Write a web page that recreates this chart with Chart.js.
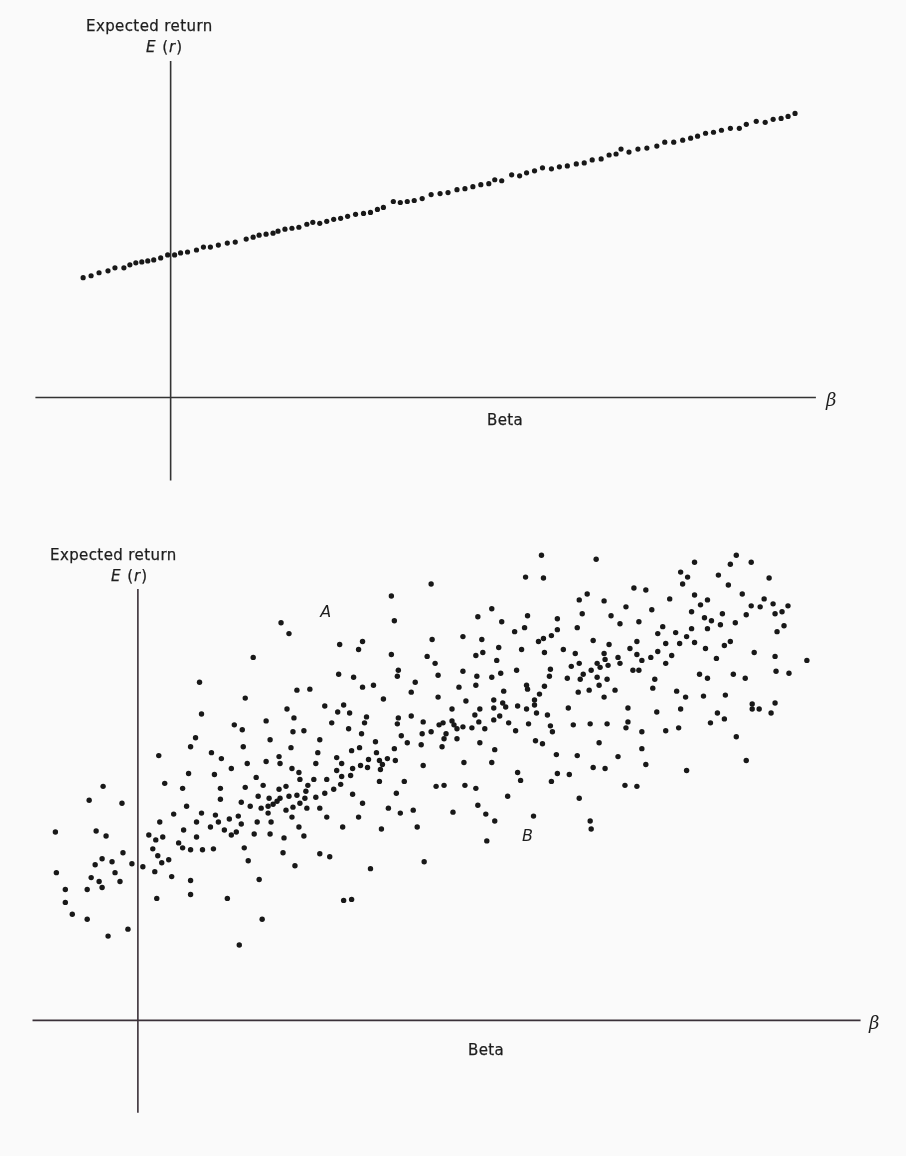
<!DOCTYPE html>
<html lang="en">
<head>
<meta charset="utf-8">
<title>Expected return and Beta</title>
<script src="https://cdn.jsdelivr.net/npm/chart.js@4.4.0/dist/chart.umd.min.js"></script>
<style>
  html, body { margin: 0; padding: 0; background: #fafafa; }
  #page { position: relative; width: 906px; height: 1156px; overflow: hidden;
          font-family: "DejaVu Sans", sans-serif; color: #1e1e1e; }
  .panel { position: absolute; left: 0; }
  .lbl { position: absolute; font-size: 15px; line-height: 15px; white-space: nowrap;
         letter-spacing: 0.4px; -webkit-text-stroke: 0.25px #1e1e1e; }
  .er { letter-spacing: 1px; }
  .beta-sym { font-size: 18px; line-height: 18px; font-style: italic; font-family: "DejaVu Serif", serif;
              letter-spacing: 0; -webkit-text-stroke: 0; }
  .mark { font-style: italic; font-size: 16px; line-height: 16px; letter-spacing: 0;
          -webkit-text-stroke: 0; transform: translate(-50%, -50%); }
</style>
</head>
<body>
<div id="page">
  <canvas id="chartTop" class="panel" style="top:0" width="906" height="500"></canvas>
  <canvas id="chartBottom" class="panel" style="top:500px" width="906" height="656"></canvas>

  <div class="lbl" style="left:86px; top:19px">Expected return</div>
  <div class="lbl er" style="left:146px; top:40px"><i>E</i> (<i>r</i>)</div>
  <div class="lbl" style="left:487px; top:413px">Beta</div>
  <div class="lbl beta-sym" style="left:826px; top:391px">β</div>

  <div class="lbl" style="left:50px; top:548px">Expected return</div>
  <div class="lbl er" style="left:111px; top:569px"><i>E</i> (<i>r</i>)</div>
  <div class="lbl" style="left:468px; top:1043px">Beta</div>
  <div class="lbl beta-sym" style="left:869px; top:1014px">β</div>
</div>

<script>
// Grafico superior: rendimiento esperado sobre la recta (beta, E(r))
const lineBeta = [
  -0.88, -0.80, -0.72, -0.63, -0.56, -0.47, -0.41, -0.35, -0.29, -0.23,
  -0.17, -0.10, -0.03, 0.04, 0.10, 0.17, 0.26, 0.33, 0.40, 0.48,
  0.57, 0.65, 0.76, 0.83, 0.89, 0.96, 1.03, 1.08, 1.15, 1.22,
  1.29, 1.37, 1.43, 1.50, 1.57, 1.64, 1.71, 1.78, 1.86, 1.94,
  2.01, 2.08, 2.14, 2.24, 2.31, 2.38, 2.45, 2.53, 2.62, 2.71,
  2.79, 2.88, 2.96, 3.04, 3.12, 3.20, 3.26, 3.33, 3.43, 3.51,
  3.58, 3.66, 3.74, 3.83, 3.91, 3.99, 4.08, 4.16, 4.24, 4.33,
  4.41, 4.48, 4.53, 4.61, 4.70, 4.79, 4.89, 4.97, 5.06, 5.15,
  5.23, 5.30, 5.38, 5.46, 5.54, 5.63, 5.72, 5.79, 5.89, 5.98,
  6.06, 6.14, 6.21, 6.28
];
const lineReturn = [
  1.21, 1.23, 1.26, 1.28, 1.31, 1.31, 1.34, 1.36, 1.37, 1.38,
  1.39, 1.41, 1.44, 1.44, 1.46, 1.47, 1.49, 1.52, 1.52, 1.54,
  1.56, 1.57, 1.60, 1.62, 1.64, 1.65, 1.66, 1.68, 1.70, 1.71,
  1.72, 1.75, 1.77, 1.76, 1.78, 1.80, 1.81, 1.83, 1.85, 1.86,
  1.87, 1.90, 1.92, 1.98, 1.97, 1.98, 1.99, 2.01, 2.05, 2.06,
  2.07, 2.10, 2.11, 2.13, 2.15, 2.16, 2.20, 2.19, 2.25, 2.24,
  2.27, 2.29, 2.32, 2.31, 2.33, 2.34, 2.36, 2.37, 2.40, 2.41,
  2.45, 2.46, 2.51, 2.48, 2.51, 2.52, 2.54, 2.58, 2.58, 2.60,
  2.62, 2.64, 2.67, 2.68, 2.70, 2.72, 2.72, 2.76, 2.79, 2.78,
  2.81, 2.82, 2.84, 2.87
];

// Grafico inferior: nube de puntos (beta, E(r))
const scatterBeta = [
  1.44, 1.52, 1.16, 0.62, 1.60, 1.08, 0.64, 1.50, 1.57, 0.97,
  1.05, 1.29, 1.56, 0.58, 1.33, 0.53, 1.06, 1.54, 0.74, 0.21,
  0.84, 1.42, 1.29, 1.43, 1.10, 0.94, 1.55, 1.62, 0.51, 0.77,
  1.19, 1.63, 0.27, 0.45, 0.83, 1.08, 1.26, 1.49, 1.42, -0.35,
  -0.49, -0.16, 0.83, 1.04, 1.21, 1.32, 1.43, 1.52, 1.60, 0.49,
  1.13, 1.24, 1.31, 1.36, 1.40, 1.49, 1.56, 1.63, 0.36, 0.64,
  0.78, 1.01, 1.31, 1.55, 0.22, 0.59, 0.81, 0.92, 1.20, 1.34,
  1.04, 1.62, 0.46, 0.73, 0.87, 0.99, 0.94, 1.17, 1.33, -0.83,
  -0.42, -0.32, 0.11, 0.18, 0.25, 0.59, 1.47, 0.41, 0.15, 0.45,
  0.53, 0.65, 0.76, 1.07, 1.46, -0.15, -0.36, -0.26, -0.43, 0.20,
  0.31, 0.24, -0.06, 0.05, 1.11, 1.58, -0.82, -0.23, 0.17, -0.47,
  -0.39, -0.18, 0.34, 0.53, 1.22, -0.73, -0.51, -0.36, 0.53, 0.19,
  0.90, -0.73, -0.66, -0.51, 1.25, -0.10, -0.30, 1.02,
  4.06, 3.90, 4.08, 2.95, 2.55, 3.56, 2.58, 3.42, 3.92, 3.66,
  4.22, 3.89, 3.79, 4.22, 4.16, 4.08, 4.03, 3.27, 3.46, 2.96,
  2.03, 2.26, 2.22, 2.55, 2.91, 3.63, 3.86, 3.47, 3.40, 4.09,
  3.61, 2.99, 2.62, 2.61, 2.02, 2.17, 3.02, 3.27, 3.41, 3.56,
  3.65, 3.81, 4.15, 4.14, 2.79, 1.73, 2.26, 2.37, 3.23, 3.40,
  3.91, 3.92, 4.09, 2.75, 3.68, 4.04, 2.47, 3.02, 3.30, 3.58,
  3.99, 1.88, 2.07, 2.01, 2.13, 2.30, 2.62, 2.75, 3.16, 3.44,
  3.58, 3.67, 3.70, 3.82, 3.91, 3.99, 4.01, 4.12, 3.39, 3.64,
  3.58, 1.95, 2.28, 2.61, 2.87, 3.03, 3.07, 3.16, 3.18, 3.27,
  3.36, 3.43, 3.49, 3.73, 3.93, 4.15, 3.21, 2.12, 1.67, 2.25,
  2.65, 2.86, 2.95, 3.10, 3.80, 4.17, 3.08, 3.21, 1.83, 2.39,
  2.71, 2.85, 3.44, 4.00, 4.07,
  4.61, 6.02, 5.60, 5.96, 6.17, 5.46, 5.53, 5.84, 6.35, 5.48,
  5.94, 4.99, 5.11, 4.52, 4.44, 4.69, 5.35, 5.60, 5.73, 6.08,
  6.30, 6.39, 6.54, 6.17, 6.26, 5.66, 4.91, 5.17, 5.57, 5.88,
  6.12, 6.48, 6.41, 4.47, 4.76, 5.70, 5.77, 6.01, 5.86, 4.85,
  5.04, 4.42, 5.28, 5.57, 5.73, 6.50, 6.43, 5.23, 5.41, 5.52,
  4.58, 5.02, 5.60, 5.96, 5.90, 4.74, 5.31, 5.45, 4.28, 4.95,
  5.71, 4.40, 4.69, 5.02, 5.23, 5.37, 6.20, 5.16, 4.83, 4.70,
  5.07, 5.82, 6.41, 6.73, 4.44, 4.62, 4.73, 4.85, 5.31, 4.36,
  4.65, 4.56, 4.98, 5.04, 4.48, 4.32, 4.45, 4.62, 4.72, 5.20,
  5.65, 5.73, 5.99, 6.11, 6.42, 6.55, 4.64, 4.43, 4.54, 4.80,
  5.18, 5.42, 4.69, 5.51, 5.69, 5.91, 4.33, 4.93, 5.22, 5.46,
  6.18, 6.18, 6.25, 6.41, 6.37, 5.83, 5.90, 4.93, 4.38, 4.55,
  4.72, 4.91, 5.07, 5.31, 5.44, 5.76, 6.02, 4.64,
  2.15, 2.23, 2.40, 2.58, 3.06, 3.59, 4.21, 1.81, 1.79, 2.00,
  2.05, 2.00, 2.16, 2.24, 2.32, 2.31, 2.43, 2.46, 2.51, 2.59,
  2.44, 2.87, 3.28, 3.56, 3.82, 4.22, 2.05, 2.14, 1.77, 1.90,
  2.43, 2.68, 3.85, 4.16, 1.71, 2.04, 3.00, 3.08, 3.29, 3.40,
  1.69, 1.97, 1.88, 2.16, 2.60, 3.72, 1.68, 1.79, 2.26, 1.70,
  1.83, 2.52, 2.77, 2.64, 3.42, 3.17, 3.50, 1.90, 2.22, 3.98,
  3.59, 2.06, 2.45, 2.81, 1.67, 3.51, 1.83, 1.93, 2.88, 2.34,
  2.07, 2.15,
  5.07, 4.42, 4.83, 6.12, 4.58, 4.70, 5.11, 5.52, 4.34, 4.90,
  5.02, 4.44, 4.55, 4.56
];
const scatterReturn = [
  4.01, 3.90, 3.66, 3.41, 3.33, 3.25, 3.09, 3.14, 3.05, 2.98,
  2.93, 3.02, 2.91, 2.85, 2.83, 2.76, 2.76, 2.75, 2.70, 2.67,
  2.64, 2.66, 2.61, 2.59, 2.59, 2.54, 2.54, 2.50, 2.49, 2.48,
  2.45, 2.43, 2.39, 2.34, 2.34, 2.35, 2.37, 2.36, 2.33, 2.36,
  2.22, 2.19, 2.23, 2.20, 2.26, 2.24, 2.24, 2.26, 2.27, 2.16,
  2.16, 2.14, 2.16, 2.18, 2.21, 2.12, 2.15, 2.19, 2.08, 2.09,
  2.07, 2.06, 2.09, 2.05, 2.00, 2.00, 2.00, 2.03, 2.00, 2.00,
  1.98, 1.95, 1.92, 1.95, 1.92, 1.90, 1.87, 1.88, 1.88, 1.90,
  1.91, 1.86, 1.87, 1.82, 1.85, 1.85, 1.84, 1.79, 1.73, 1.74,
  1.72, 1.72, 1.73, 1.74, 1.69, 1.69, 1.63, 1.60, 1.57, 1.66,
  1.62, 1.59, 1.58, 1.55, 1.61, 1.56, 1.49, 1.49, 1.50, 1.44,
  1.40, 1.40, 1.45, 1.41, 1.42, 1.32, 1.32, 1.34, 1.27, 1.23,
  1.23, 1.19, 1.07, 1.02, 1.02, 0.92, 0.85, 0.76,
  4.69, 4.47, 4.46, 4.40, 4.28, 4.15, 4.03, 4.07, 4.08, 4.02,
  4.05, 3.96, 3.92, 3.94, 3.88, 3.85, 3.82, 3.87, 3.84, 3.84,
  3.79, 3.82, 3.74, 3.69, 3.67, 3.76, 3.74, 3.71, 3.68, 3.71,
  3.63, 3.60, 3.53, 3.47, 3.49, 3.46, 3.48, 3.52, 3.47, 3.46,
  3.50, 3.53, 3.54, 3.47, 3.41, 3.34, 3.36, 3.38, 3.36, 3.38,
  3.38, 3.34, 3.37, 3.31, 3.32, 3.29, 3.24, 3.26, 3.22, 3.23,
  3.23, 3.17, 3.18, 3.11, 3.10, 3.06, 3.05, 3.07, 3.14, 3.14,
  3.15, 3.20, 3.16, 3.17, 3.14, 3.18, 3.10, 3.08, 3.08, 3.07,
  3.03, 3.00, 3.00, 2.99, 3.01, 2.98, 3.00, 3.02, 2.98, 2.96,
  2.95, 3.01, 2.94, 3.00, 2.99, 2.97, 2.94, 2.94, 2.92, 2.89,
  2.87, 2.89, 2.91, 2.89, 2.92, 2.91, 2.84, 2.84, 2.83, 2.81,
  2.80, 2.78, 2.80, 2.82, 2.79,
  4.65, 4.69, 4.62, 4.60, 4.62, 4.52, 4.47, 4.49, 4.46, 4.40,
  4.39, 4.36, 4.34, 4.30, 4.24, 4.23, 4.25, 4.29, 4.24, 4.30,
  4.25, 4.20, 4.18, 4.18, 4.17, 4.19, 4.17, 4.14, 4.12, 4.10,
  4.09, 4.12, 4.10, 4.10, 4.08, 4.06, 4.03, 4.01, 3.99, 4.00,
  4.02, 3.96, 3.97, 3.95, 3.95, 3.98, 3.92, 3.90, 3.91, 3.87,
  3.83, 3.82, 3.81, 3.82, 3.78, 3.79, 3.80, 3.80, 3.74, 3.75,
  3.75, 3.70, 3.70, 3.69, 3.72, 3.68, 3.71, 3.66, 3.66, 3.64,
  3.63, 3.65, 3.67, 3.63, 3.60, 3.60, 3.58, 3.60, 3.60, 3.57,
  3.56, 3.53, 3.53, 3.53, 3.49, 3.45, 3.44, 3.46, 3.44, 3.44,
  3.49, 3.45, 3.49, 3.45, 3.52, 3.50, 3.38, 3.31, 3.33, 3.33,
  3.35, 3.32, 3.26, 3.26, 3.27, 3.28, 3.15, 3.15, 3.11, 3.14,
  3.19, 3.14, 3.14, 3.20, 3.10, 3.10, 3.04, 3.01, 2.98, 2.99,
  2.99, 2.95, 2.91, 2.92, 2.95, 3.00, 2.86, 2.80,
  2.72, 2.75, 2.70, 2.74, 2.76, 2.73, 2.68, 2.70, 2.59, 2.65,
  2.59, 2.52, 2.54, 2.57, 2.63, 2.55, 2.62, 2.58, 2.64, 2.62,
  2.53, 2.57, 2.60, 2.60, 2.50, 2.49, 2.46, 2.47, 2.43, 2.43,
  2.41, 2.41, 2.42, 2.41, 2.37, 2.38, 2.36, 2.37, 2.37, 2.34,
  2.31, 2.33, 2.29, 2.28, 2.29, 2.26, 2.24, 2.25, 2.19, 2.14,
  2.14, 2.14, 2.12, 2.09, 2.17, 2.10, 2.08, 2.05, 2.05, 2.06,
  2.01, 1.95, 1.93, 1.95, 1.86, 1.81, 1.68, 1.65, 1.60, 1.53,
  1.21, 1.22,
  2.74, 2.67, 2.66, 2.62, 2.55, 2.54, 2.58, 2.52, 2.48, 2.37,
  2.36, 2.24, 2.01, 1.93
];

// Etiquetas de los puntos A y B (en unidades de los ejes)
const markLabels = ['A', 'B'];
const markBeta = [1.89, 3.92];
const markReturn = [4.12, 1.86];

// Plugin que dibuja los ejes cruzados en beta = 0 y E(r) = 0
const crossAxes = {
    id: 'crossAxes',
    beforeDatasetsDraw(chart, args, opts) {
        const { ctx, scales: { x, y } } = chart;
        ctx.save();
        ctx.strokeStyle = opts.color;
        ctx.lineWidth = opts.width;
        ctx.beginPath();
        ctx.moveTo(x.getPixelForValue(opts.xFrom), y.getPixelForValue(0));
        ctx.lineTo(x.getPixelForValue(opts.xTo), y.getPixelForValue(0));
        ctx.moveTo(x.getPixelForValue(0), y.getPixelForValue(opts.yFrom));
        ctx.lineTo(x.getPixelForValue(0), y.getPixelForValue(opts.yTo));
        ctx.stroke();
        ctx.restore();
    }
};

// Configuracion comun de un panel
function makeChart(id, betas, returns, radius, ranges, axes) {
    const points = betas.map((b, i) => ({ x: b, y: returns[i] }));
    return new Chart(document.getElementById(id), {
        type: 'scatter',
        data: {
            datasets: [{
                data: points,
                backgroundColor: '#181818',
                borderWidth: 0,
                pointRadius: radius,
                pointHoverRadius: radius
            }]
        },
        options: {
            responsive: false,
            animation: false,
            devicePixelRatio: 1,
            events: [],
            layout: { padding: 0 },
            scales: {
                x: { type: 'linear', display: false, min: ranges.xMin, max: ranges.xMax },
                y: { type: 'linear', display: false, min: ranges.yMin, max: ranges.yMax }
            },
            plugins: {
                legend: { display: false },
                tooltip: { enabled: false },
                crossAxes: axes
            }
        },
        plugins: [crossAxes]
    });
}

const chartTop = makeChart('chartTop', lineBeta, lineReturn, 2.6,
    { xMin: -1.69, xMax: 7.37, yMin: -1.01, yMax: 3.99 },
    { color: '#333', width: 1.6, xFrom: -1.36, xTo: 6.49, yFrom: 3.40, yTo: -0.84 });

const chartBottom = makeChart('chartBottom', scatterBeta, scatterReturn, 2.7,
    { xMin: -1.36, xMax: 7.70, yMin: -1.34, yMax: 5.22 },
    { color: '#3a3038', width: 1.6, xFrom: -1.06, xTo: 7.27, yFrom: 4.35, yTo: -0.93 });

// Coloca A y B segun las escalas del grafico inferior
const page = document.getElementById('page');
markLabels.forEach((txt, i) => {
    const el = document.createElement('div');
    el.className = 'lbl mark';
    el.textContent = txt;
    el.style.left = chartBottom.scales.x.getPixelForValue(markBeta[i]) + 'px';
    el.style.top = (500 + chartBottom.scales.y.getPixelForValue(markReturn[i])) + 'px';
    page.appendChild(el);
});
</script>
</body>
</html>
